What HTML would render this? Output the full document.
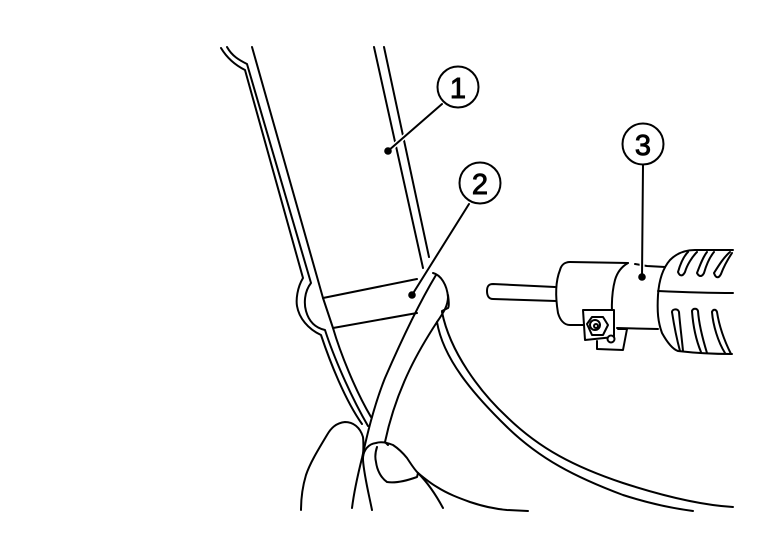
<!DOCTYPE html>
<html>
<head>
<meta charset="utf-8">
<style>
html,body{margin:0;padding:0;background:#fff;width:768px;height:544px;overflow:hidden}
svg{display:block}
text{font-family:"Liberation Sans",sans-serif;font-size:29px;font-weight:400;fill:#000;text-anchor:middle;stroke:#000;stroke-width:.9}
</style>
</head>
<body>
<svg width="768" height="544" viewBox="0 0 768 544" xmlns="http://www.w3.org/2000/svg">
<g fill="none" stroke="#000" stroke-width="2" stroke-linejoin="round" stroke-linecap="round">
<!-- left double wall -->
<path d="M221 48C227 58 235 65 245 70L303 278C297 288 296 300 297 306C299 318 308 329 321 335C330 362 345 400 362 424"/>
<path d="M227 47C232 56 239 60 247 64L311 283C304 292 304 304 306 311C309 322 316 328 325 330C333 355 350 395 368 426"/>
<path d="M252 47L323 298L333 328C340 352 355 390 371 417"/>
<!-- right double wall -->
<path d="M374 47L423 268"/>
<path d="M384 47L429 257"/>
<!-- sealing strip edges -->
<path d="M323 298L417 279"/>
<path d="M333 328L417 313"/>
<!-- strap -->
<path d="M436 275C415 310 395 355 385 378C373 408 366 440 362 458C357 478 354 492 352 508"/>
<path d="M433 273C441 275 447 285 448 297C448 305 444 312 437 322C422 345 397 385 385 442"/>
<path d="M448 295C449 302 449 307 448 308L442 311"/>
<!-- lower curves -->
<path d="M442 312C450 352 480 392 507 417C540 449 575 467 623 483C660 495 700 505 733 507"/>
<path d="M437 322C443 358 472 393 507 427C540 459 575 477 623 495C648 503 670 508 693 511"/>
<!-- hand -->
<path d="M301 510C301 495 303 485 306 475C310 463 318 450 327 435C331 428 336 423 345 422C353 422 360 427 363 437C364 445 363 452 363 460C364 475 369 495 372 510"/>
<path d="M363 457C364 450 368 444 376 443C382 441 388 443 393 445C399 449 403 453 407 458C411 464 414 469 418 473C424 478 430 483 437 487C448 494 459 498 470 502C482 506 495 509 507 510L528 511"/>
<path d="M377 447C375 453 375 458 376 462C377 470 381 478 387 482C393 483 403 482 417 477L418 473"/>
<path d="M418 473C428 483 436 495 443 508"/>
<path d="M385 442L388 445"/>
<!-- tool -->
<path d="M555 287L493 284C488 284 487 287 487 291C487 296 489 299 493 299L556 301"/>
<path d="M628 263L570 262C564 262 561 266 560 270C556 280 555 295 558 313C560 320 564 325 570 325L583 325"/>
<path d="M628 263C621 267 617 273 615 280C611 295 611 315 614 331"/>
<path d="M635 264L647 266M647 266L665 267"/>
<path d="M617 328L658 329"/>
<path d="M733 250L695 250C686 250 677 253 670 260C663 268 659 280 658 295C657 312 658 322 662 333C667 342 672 349 678 351C695 353 715 354 732 354"/>
<path d="M658 291C680 292 710 293 733 293"/>
<path d="M688 252C683 257 680 265 678 272C680 277 683 276 685 272C687 265 692 257 697 252"/>
<path d="M707 252C703 257 700 265 697 273C699 277 702 277 704 273C706 266 709 258 714 252"/>
<path d="M730 252C724 257 719 265 714 273C716 279 719 278 721 274C724 266 728 259 732 253"/>
<path d="M672 312C672 309 678 308 679 312C680 325 682 340 683 351"/>
<path d="M672 312C674 325 677 340 680 351"/>
<path d="M692 311C693 308 697 308 698 311C699 325 703 340 707 353"/>
<path d="M692 311C693 325 696 340 701 352"/>
<path d="M712 312C713 309 716 309 717 312C719 325 724 340 731 354"/>
<path d="M712 312C713 325 718 342 725 353"/>
<!-- bracket -->
<path d="M618 329L627 329L623 350L597 349L597 341"/>
<path d="M583 310L614 310L614 337L585 340Z" fill="#fff"/>
<path d="M587 324L592 317L603 317L608 325L603 335L592 335Z" fill="#fff"/>
<circle cx="595" cy="325" r="5"/>
<circle cx="596" cy="326" r="2"/>
<circle cx="611" cy="339" r="3.5" fill="#fff"/>
<!-- leader halos -->
<path d="M388 151L442 104" stroke="#fff" stroke-width="5"/>
<path d="M412 295L469 204" stroke="#fff" stroke-width="5"/>
<path d="M643 165L642 277" stroke="#fff" stroke-width="5"/>
<!-- leaders -->
<path d="M388 151L442 104"/>
<path d="M412 295L469 204"/>
<path d="M643 165L642 277"/>
<circle cx="458" cy="87" r="20.5" fill="#fff"/>
<circle cx="480" cy="183" r="20.5" fill="#fff"/>
<circle cx="643" cy="144" r="20.5" fill="#fff"/>
</g>
<circle cx="388" cy="151" r="3.8"/>
<circle cx="412" cy="295" r="3.8"/>
<circle cx="642" cy="277" r="3.8"/>
<text x="458" y="98">1</text>
<text x="480" y="194">2</text>
<text x="643" y="155">3</text>
</svg>
</body>
</html>
